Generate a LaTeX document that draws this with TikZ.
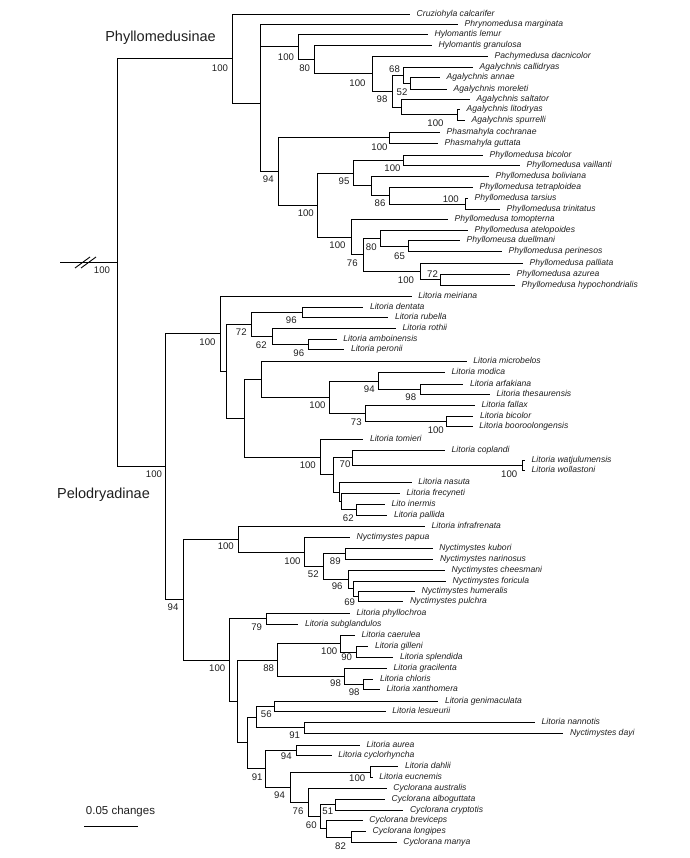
\documentclass[tikz,border=0pt]{standalone}
\usepackage{fontspec}
\setmainfont{Liberation Sans}

\begin{document}
\begin{tikzpicture}[x=1pt, y=-1pt, font=\fontsize{9.6}{10}\selectfont,
	leaf/.style={anchor=west, inner xsep=6.5pt, inner ysep=0pt, text height=6.2pt, text depth=1.8pt, text=black!88, font=\fontsize{8.6}{9}\selectfont\itshape},
	boot/.style={inner sep=0pt, text=black!88},
	clade/.style={inner sep=0pt, text=black!88, font=\fontsize{14.5}{16}\selectfont},
	branch/.style={line width=0.9pt}]

	\def \wide{689};
	\def \high{858};

	\useasboundingbox (0,0) rectangle (\wide,\high);

	% internal nodes
	\foreach \n/\x/\y in {root/117/262.6, pPhy/232/58.5, p260/260/103, p298/298/46.8, p314/314/59.3,
		p372/372/73.6, p392/392/91.3, p403/403/75.5, p410/410/83.35, p401/401/107, p457/457/114.65,
		p278/278/171.4, p389a/389/137.8, p317/317/205, p353/353/173.1, p403b/403/160.35, p371/371/185.8,
		p389b/389/195.65, p465/465/204, p351/351/237, p363/363/254.75, p380/380/238.1, p408/408/246.2,
		p420/420/271.4, p440/440/279.5,
		l165/165/466.7, l220/220/333.7, l227/226.7/371.3, l251/251/324.5, l302/302.3/312.7, l272/272.3/336.2,
		l308/308.3/344.2, l244/244.3/418.2, l262/261.7/379.3, l329/329/397.1, l378/378.3/381, l420/420/389.2,
		l365/365/413.2, l447/446.7/421.4, l321/320.7/457, l333/333/474.9, l352/352.3/457.7, l522/522/465.4,
		l339/339/492.1, l341/341/501.5, l357/356.7/509.7, l183/183.3/599.6, l238/238.3/539, l304/304.3/552,
		l323/323/566.6, l345/345/553.8, l348/348.3/579.3, l353/353.3/588.7, l358/358.3/596.3, l229/229/660.2,
		l267/266.7/618.8, l237/237.3/701.5, l278/277.7/660, l340/340/643.8, l357g/356.7/652, l344/344.3/676.3,
		l363/363.3/684.3, l247/247.3/742.9, l256/256/717, l274/274.3/706.3, l304n/304.3/727.8, l266/265.7/768.8,
		l297/296.7/750.3, l290/290/787.3, l370/370/772, l308c/308.3/802.5, l320/320/816.7, l335/335/804.5,
		l326/326/828.8, l351/351/837}
		\coordinate (\n) at (\x,\y);

	% taxa
	\foreach \n/\x/\y/\txt in {calcarifer/410/14/Cruziohyla calcarifer, marginata/458/24.3/Phrynomedusa marginata,
		lemur/428/34.3/Hylomantis lemur, granulosa/432/45/Hylomantis granulosa,
		dacnicolor/488/56/Pachymedusa dacnicolor, callidryas/473/67.7/Agalychnis callidryas,
		annae/440/77.7/Agalychnis annae, moreleti/447/89/Agalychnis moreleti,
		saltator/470/99.3/Agalychnis saltator, litodryas/460/109.3/Agalychnis litodryas,
		spurrelli/465/120/Agalychnis spurrelli, cochranae/440/132.3/Phasmahyla cochranae,
		guttata/438/143.3/Phasmahyla guttata, bicolorP/483/155/Phyllomedusa bicolor,
		vaillanti/520/165.7/Phyllomedusa vaillanti, boliviana/489/176/Phyllomedusa boliviana,
		tetraploidea/473/187.3/Phyllomedusa tetraploidea, tarsius/468/198.7/Phyllomedusa tarsius,
		trinitatus/500/209.3/Phyllomedusa trinitatus, tomopterna/448/219.3/Phyllomedusa tomopterna,
		atelopoides/468/230/Phyllomedusa atelopoides, duellmani/460/240.7/Phyllomeusa duellmani,
		perinesos/502/251.7/Phyllomedusa perinesos, palliata/523/263.3/Phyllomedusa palliata,
		azurea/510/274/Phyllomedusa azurea, hypochondrialis/515/285/Phyllomedusa hypochondrialis}
		\node[leaf] (\n) at (\x,\y) {\txt};

	\foreach \n/\x/\y/\txt in {meiriana/411.7/296/Litoria meiriana, dentata/363.3/307.7/Litoria dentata,
		rubella/388.3/317.7/Litoria rubella, rothii/396/328.3/Litoria rothii,
		amboinensis/336.7/339/Litoria amboinensis, peronii/344.3/349.3/Litoria peronii,
		microbelos/466.7/361.5/Litoria microbelos, modica/445/372.7/Litoria modica,
		arfakiana/463.3/384/Litoria arfakiana, thesaurensis/490/394.3/Litoria thesaurensis,
		fallax/475/405/Litoria fallax, bicolorL/473.3/416/Litoria bicolor,
		booroolongensis/472.7/426.7/Litoria booroolongensis, tomieri/363.3/439/Litoria tomieri,
		coplandi/445/450/Litoria coplandi, watjulumensis/525/460/Litoria watjulumensis,
		wollastoni/525/470.7/Litoria wollastoni, nasuta/411.7/482.7/Litoria nasuta,
		frecyneti/400/493.3/Litoria frecyneti, inermis/385/504.3/Lito inermis,
		pallida/387.3/515/Litoria pallida, infrafrenata/425/526/Litoria infrafrenata,
		papua/350/537.3/Nyctimystes papua, kubori/432.7/548.3/Nyctimystes kubori,
		narinosus/433.3/559.3/Nyctimystes narinosus, cheesmani/445/570/Nyctimystes cheesmani,
		foricula/446/581/Nyctimystes foricula, humeralis/415/591/Nyctimystes humeralis,
		pulchra/403.3/601.7/Nyctimystes pulchra, phyllochroa/350/613.3/Litoria phyllochroa,
		subglandulos/298.3/624.3/Litoria subglandulos, caerulea/355/635.7/Litoria caerulea,
		gilleni/368.3/646.7/Litoria gilleni, splendida/393.3/657.3/Litoria splendida,
		gracilenta/387/668.3/Litoria gracilenta, chloris/373.3/679.3/Litoria chloris,
		xanthomera/380/689.3/Litoria xanthomera, genimaculata/438.3/701/Litoria genimaculata,
		lesueurii/385.7/711.7/Litoria lesueurii, nannotis/535/722.3/Litoria nannotis,
		dayi/563.3/733.3/Nyctimystes dayi, aurea/360/745/Litoria aurea,
		cyclorhyncha/331.7/755.7/Litoria cyclorhyncha, dahlii/398.3/766.7/Litoria dahlii,
		eucnemis/372.7/777.3/Litoria eucnemis, australis/386.7/788.3/Cyclorana australis,
		alboguttata/385/799/Cyclorana alboguttata, cryptotis/403.3/810/Cyclorana cryptotis,
		breviceps/362.7/820.7/Cyclorana breviceps, longipes/366/831.7/Cyclorana longipes,
		manya/396.7/842.3/Cyclorana manya}
		\node[leaf] (\n) at (\x,\y) {\txt};

	% branches
	\foreach \a/\b in {root/pPhy, root/l165, pPhy/calcarifer, pPhy/p260,
		p260/marginata, p260/p298, p260/p278, p298/lemur, p298/p314, p314/granulosa, p314/p372,
		p372/dacnicolor, p372/p392, p392/p403, p392/p401, p403/callidryas, p403/p410,
		p410/annae, p410/moreleti, p401/saltator, p401/p457, p457/litodryas, p457/spurrelli,
		p278/p389a, p278/p317, p389a/cochranae, p389a/guttata, p317/p353, p317/p351,
		p353/p403b, p353/p371, p403b/bicolorP, p403b/vaillanti, p371/boliviana, p371/p389b,
		p389b/tetraploidea, p389b/p465, p465/tarsius, p465/trinitatus, p351/tomopterna, p351/p363,
		p363/p380, p363/p420, p380/atelopoides, p380/p408, p408/duellmani, p408/perinesos,
		p420/palliata, p420/p440, p440/azurea, p440/hypochondrialis}
		\draw[branch] (\a) |- (\b);

	\foreach \a/\b in {l165/l220, l165/l183, l220/meiriana, l220/l227, l227/l251, l227/l244,
		l251/l302, l251/l272, l302/dentata, l302/rubella, l272/rothii, l272/l308,
		l308/amboinensis, l308/peronii, l244/l262, l244/l321, l262/microbelos, l262/l329,
		l329/l378, l329/l365, l378/modica, l378/l420, l420/arfakiana, l420/thesaurensis,
		l365/fallax, l365/l447, l447/bicolorL, l447/booroolongensis, l321/tomieri, l321/l333,
		l333/l352, l333/l339, l352/coplandi, l352/l522, l522/watjulumensis, l522/wollastoni,
		l339/nasuta, l339/l341, l341/frecyneti, l341/l357, l357/inermis, l357/pallida,
		l183/l238, l183/l229, l238/infrafrenata, l238/l304, l304/papua, l304/l323,
		l323/l345, l323/l348, l345/kubori, l345/narinosus, l348/cheesmani, l348/l353,
		l353/foricula, l353/l358, l358/humeralis, l358/pulchra, l229/l267, l229/l237,
		l267/phyllochroa, l267/subglandulos, l237/l278, l237/l247, l278/l340, l278/l344,
		l340/caerulea, l340/l357g, l357g/gilleni, l357g/splendida, l344/gracilenta, l344/l363,
		l363/chloris, l363/xanthomera, l247/l256, l247/l266, l256/l274, l256/l304n,
		l274/genimaculata, l274/lesueurii, l304n/nannotis, l304n/dayi, l266/l297, l266/l290,
		l297/aurea, l297/cyclorhyncha, l290/l370, l290/l308c, l370/dahlii, l370/eucnemis,
		l308c/australis, l308c/l320, l320/l335, l320/l326, l335/alboguttata, l335/cryptotis,
		l326/breviceps, l326/l351, l351/longipes, l351/manya}
		\draw[branch] (\a) |- (\b);

	% root stub, broken
	\coordinate (stub) at (60,262.6);
	\draw[branch] (stub) -- (root);
	\draw[branch] (75,268) -- (90,257);
	\draw[branch] (81,268) -- (96,257);

	% support values
	\foreach \n/\x/\y/\v in {root/102/270/100, pPhy/220/68.3/100, p298/286/56.7/100, p314/304.7/68.3/80,
		p372/357.5/83.3/100, p392/382/99/98, p403/394.5/69.3/68, p410/402/91.7/52, p457/435.5/123.3/100,
		p389a/379.5/146.7/100, p278/268.3/179/94, p317/305.8/213.3/100, p353/344/181/95,
		p403b/392.5/167.7/100, p389b/380/203.3/86, p465/450.8/199/100, p351/337.5/245/100,
		p363/352.3/263.3/76, p380/371.3/246.7/80, p408/399.5/255.7/65, p420/406/280/100, p440/432.5/274/72,
		l165/154/474/100, l183/173/607.5/94, l220/207.5/341.7/100, l251/241.3/332.3/72, l302/291.3/320/96,
		l272/261.3/345/62, l308/298.8/353.3/96, l329/317.5/405/100, l378/369.3/389/94, l420/410.8/397.3/98,
		l365/356.3/421.7/73, l447/435.8/430/100, l321/307.8/465/100, l352/345/464/70, l522/509.2/474.3/100,
		l357/348.3/517.7/62, l238/225.8/546/100, l304/292.5/560.7/100, l345/335.3/561/89, l323/313.3/574/52,
		l353/337.2/585.7/96, l358/349.7/601.7/69, l267/256.7/626.7/79, l229/217.2/667.7/100,
		l278/268.7/667.7/88, l340/329.2/650.7/100, l357g/346.7/657.3/90, l344/335.5/683.3/98,
		l363/354.2/692.3/98, l274/266.3/714.3/56, l304n/294.7/735/91, l266/257.2/777.3/91,
		l297/286.3/755.7/94, l290/279.5/795/94, l370/357.2/778.3/100, l308c/298/811/76,
		l335/327.8/811.7/51, l320/311.3/825/60, l351/340.5/846/82}
		\node[boot] (b\n) at (\x,\y) {\v};

	% subfamilies
	\node[clade] (phyllo) at (160.5,38) {Phyllomedusinae};
	\node[clade] (pelo) at (103.5,495) {Pelodryadinae};

	% scale
	\node[boot, font=\fontsize{11.5}{12}\selectfont] (scale) at (120.5,812) {0.05 changes};
	\coordinate (bar0) at (84,826);
	\coordinate (bar1) at (138,826);
	\draw[branch] (bar0) -- (bar1);

\end{tikzpicture}
\end{document}
